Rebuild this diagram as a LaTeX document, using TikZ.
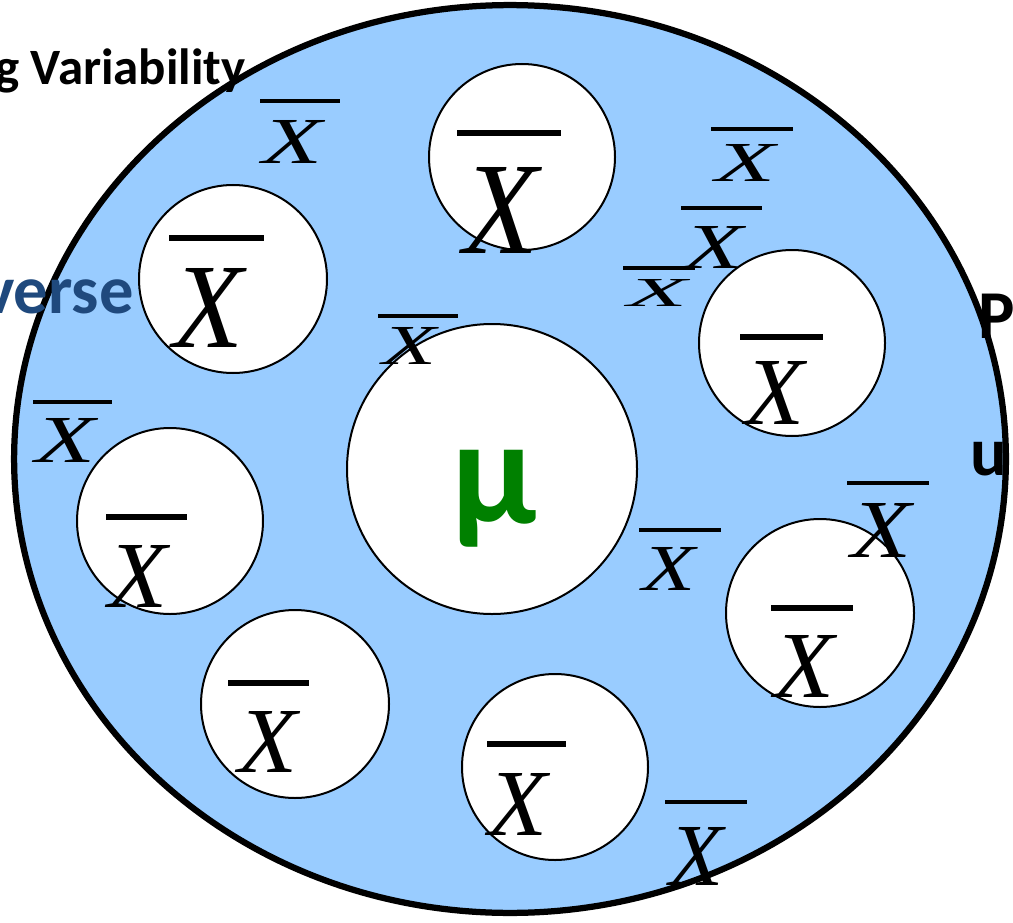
\documentclass[tikz,border=0pt]{standalone}
\usepackage{fontspec}
\usepackage{graphicx}
\setmainfont{Carlito}
\newfontfamily\timesfont{Liberation Serif}

\definecolor{popblue}{RGB}{153,204,255}
\definecolor{titleblue}{RGB}{31,73,125}
\definecolor{mugreen}{RGB}{0,128,0}

% one pixel of the slide
\newlength\pxu
\setlength\pxu{0.02cm}
\newcommand{\xmean}[2]{\resizebox{#1\pxu}{#2\pxu}{\timesfont\itshape X}}

\tikzset{
  sample/.style={circle, draw=black, fill=white, line width=0.4mm, inner sep=0pt, minimum size=#1*0.02cm},
  meanx/.style={inner sep=0pt, outer sep=0pt},
  bigbar/.style={line width=1.1mm},
  smallbar/.style={line width=0.75mm},
  cut/.style={font=\bfseries\fontsize{39}{42}\selectfont, inner sep=0pt}
}

\begin{document}
\begin{tikzpicture}[x=0.02cm, y=-0.02cm]
    \useasboundingbox (0,0) rectangle (1013,922);

    % Population
    \draw[fill=popblue, line width=1.25mm] (510,459) ellipse [x radius=9.92cm, y radius=9.08cm];

    % Samples
    \node[sample=186] (s1) at (522,157) {};
    \node[sample=188] (s2) at (233,279) {};
    \node[sample=186] (s3) at (792,343) {};
    \node[sample=290] (s4) at (492,469) {};
    \node[sample=186] (s5) at (170,521) {};
    \node[sample=188] (s6) at (820,613) {};
    \node[sample=188] (s7) at (295,704) {};
    \node[sample=186] (s8) at (555,767) {};

    % Population mean
    \node[text=mugreen, font=\bfseries\fontsize{86}{90}\selectfont, inner sep=0pt, anchor=base] (mu) at (494,523) {μ};

    % Sample means inside the circles
    \draw[bigbar] (457,133) -- (561,133);
    \node[meanx] (x1) at (501,210) {\xmean{75}{86}};

    \draw[bigbar] (169,238) -- (264,238);
    \node[meanx] (x2) at (209,308) {\xmean{70}{79}};

    \draw[bigbar] (740,337) -- (823,337);
    \node[meanx] (x3) at (775,393) {\xmean{59}{63}};

    \draw[bigbar] (106,517) -- (187,517);
    \node[meanx] (x5) at (138,576) {\xmean{59}{62}};

    \draw[bigbar] (771,608) -- (853,608);
    \node[meanx] (x6) at (805,666) {\xmean{60}{62}};

    \draw[bigbar] (228,683) -- (309,683);
    \node[meanx] (x7) at (268,742) {\xmean{59}{61}};

    \draw[bigbar] (487,744) -- (566,744);
    \node[meanx] (x8) at (518,804) {\xmean{59}{62}};

    % Sample means in the population
    \draw[smallbar] (260,101) -- (340,101);
    \node[meanx] (xa) at (293,142) {\xmean{60}{43}};

    \draw[smallbar] (711,129) -- (793,129);
    \node[meanx] (xb) at (746,163) {\xmean{60}{37}};

    \draw[smallbar] (681,208) -- (762,208);
    \node[meanx] (xc) at (714,247) {\xmean{59}{42}};

    \draw[smallbar] (623,268) -- (695,268);
    \node[meanx] (xd) at (658,293) {\xmean{60}{27}};

    \draw[smallbar] (378,316) -- (458,316);
    \node[meanx] (xe) at (409,346) {\xmean{54}{37}};

    \draw[smallbar] (33,402) -- (112,402);
    \node[meanx] (xf) at (66,440) {\xmean{60}{44}};

    \draw[smallbar] (639,530) -- (721,530);
    \node[meanx] (xg) at (669,569) {\xmean{53}{43}};

    \draw[smallbar] (847,483) -- (929,483);
    \node[meanx] (xh) at (881,530) {\xmean{60}{54}};

    \draw[smallbar] (665,802) -- (747,802);
    \node[meanx] (xi) at (696,856) {\xmean{54}{58}};

    % Slide text cut off at the edges
    \node[cut, font=\bfseries\fontsize{29}{32}\selectfont, anchor=base east] (topic) at (246,85) {g Variability};
    \node[cut, text=titleblue, anchor=base east] (side) at (134,313) {verse};
    \node[cut, anchor=base west] (pright) at (978,338) {P};
    \node[cut, anchor=base west] (uright) at (970,475) {u};
\end{tikzpicture}
\end{document}
